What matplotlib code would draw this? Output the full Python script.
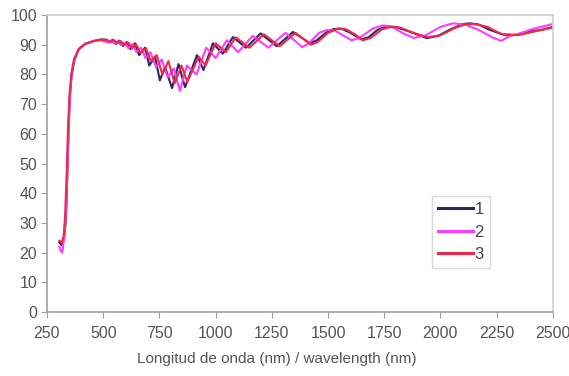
import matplotlib
matplotlib.use("Agg")
import matplotlib.pyplot as plt

plt.rcParams['font.family'] = ['Liberation Sans', 'DejaVu Sans']

# sample 1
x1 = [305, 315, 325, 333, 340, 346, 352, 360, 372, 392, 420, 460, 490, 515, 528, 542, 557, 572, 588, 605,
      622, 641, 660, 686, 705, 730, 752, 775, 806, 835, 864, 917, 946, 988, 1032, 1077, 1135, 1200, 1272, 1344,
      1380, 1419, 1450, 1490, 1525, 1560, 1600, 1648, 1680, 1720, 1760, 1800, 1860, 1940, 1990, 2040, 2100, 2131,
      2170, 2220, 2275, 2340, 2400, 2450, 2500]
y1 = [23.5, 22.5, 24.5, 30, 45, 62, 73, 80, 85, 88.5, 90.3, 91.3, 91.8, 91.7, 90.8, 91.7, 90.3, 91.4, 89.6, 90.9,
      88.5, 90.5, 86.5, 89, 83, 86, 78, 82.5, 75.4, 83.5, 75.7, 86.5, 81.5, 90.5, 87, 92.6, 89, 93.8, 89.5, 94.3,
      92.5, 90.5, 91.5, 94, 95.3, 95.4, 94, 91.8, 92.5, 95, 96.2, 96, 94.5, 92.2, 93, 95, 97, 97.2,
      96.8, 95, 93.5, 93.3, 94.5, 95, 96]

# sample 2
x2 = [305, 312, 318, 326, 334, 341, 347, 353, 361, 373, 393, 420, 460, 490, 520, 536, 550, 565, 580, 596,
      612, 630, 648, 668, 688, 710, 735, 760, 787, 814, 841, 872, 915, 958, 1000, 1050, 1100, 1165, 1235, 1310,
      1350, 1385, 1415, 1460, 1495, 1530, 1570, 1605, 1640, 1700, 1744, 1780, 1830, 1880, 1930, 2000, 2055, 2110,
      2170, 2230, 2270, 2310, 2350, 2420, 2500]
y2 = [22, 20.5, 20, 25, 33, 48, 64, 74, 81, 85.5, 88.8, 90.3, 91.3, 91.5, 90.8, 91.4, 90.4, 91.2, 89.8, 90.8,
      88.8, 90.2, 87.5, 89, 85.5, 87.5, 82.5, 85, 79, 82, 74.5, 83, 80, 89, 85.5, 91.5, 87.5, 93, 89, 94,
      91.5, 89.2, 90.5, 94, 95, 94.8, 93, 91.5, 92.3, 95.5, 96.5, 96.2, 94, 92.3, 93, 96, 97.2, 96.8,
      95, 92.5, 91.3, 93, 93.8, 95.5, 97]

# sample 3
x3 = [305, 315, 324, 331, 338, 344, 350, 358, 370, 390, 420, 460, 490, 520, 533, 547, 562, 577, 593, 610,
      628, 646, 666, 690, 712, 738, 763, 790, 818, 848, 874, 925, 955, 1000, 1045, 1090, 1150, 1215, 1285, 1355,
      1390, 1425, 1455, 1500, 1545, 1580, 1620, 1655, 1690, 1740, 1780, 1820, 1880, 1945, 2000, 2060, 2110, 2150,
      2210, 2260, 2290, 2350, 2420, 2500]
y3 = [24, 23.5, 25.5, 33, 48, 63, 73, 80, 85, 88.5, 90.3, 91.3, 91.7, 91.5, 90.9, 91.6, 90.5, 91.3, 89.9, 90.8,
      88.8, 90.2, 87.2, 88.8, 84.5, 86.5, 80, 84.5, 77, 83, 77.5, 86, 83, 90.5, 87.5, 92.5, 89, 93.5, 89.5, 94,
      92, 90, 91, 94, 95.5, 95.2, 93.5, 91.5, 92.3, 95.2, 96, 95.8, 94, 92.5, 93.2, 95.5, 96.9, 97,
      96, 94, 93.2, 93.3, 94.5, 95.8]

labels = ['1', '2', '3']
colors = ['#2a2868', '#ff3cff', '#f0284a']

fig = plt.figure(figsize=(5.69, 3.76), dpi=100)
ax = fig.add_axes([0.0826, 0.170, 0.889, 0.790])

for xs, ys, lab, c in zip([x1, x2, x3], [y1, y2, y3], labels, colors):
    ax.plot(xs, ys, color=c, lw=1.5, label=lab, solid_joinstyle='round')

ax.set_xlim(250, 2500)
ax.set_ylim(0, 100)
ax.set_xticks(range(250, 2501, 250))
ax.set_yticks(range(0, 101, 10))

for s in ['left', 'bottom']:
    ax.spines[s].set_color('#a0a0a0')
for s in ['top', 'right']:
    ax.spines[s].set_color('#d0d0d0')
for s in ax.spines.values():
    s.set_linewidth(1.2)

ax.tick_params(axis='both', colors='#a0a0a0', labelcolor='#555555', labelsize=11.5, length=4)
ax.tick_params(axis='x', pad=6)
ax.tick_params(axis='y', pad=3)

ax.set_xlabel('Longitud de onda (nm) / wavelength (nm)', fontsize=11, color='#555555')
ax.xaxis.set_label_coords(0.455, -0.135)

leg = ax.legend(loc='lower left', bbox_to_anchor=(0.761, 0.148), borderaxespad=0, fontsize=12,
                handlelength=2.1, handletextpad=0.1, borderpad=0.35, labelspacing=0.45,
                fancybox=False, framealpha=1)
leg.get_frame().set_edgecolor('#d8d8d8')
leg.get_frame().set_linewidth(1.0)
for t in leg.get_texts():
    t.set_color('#444444')
for l in leg.get_lines():
    l.set_linewidth(2.2)

fig.savefig('out.png', dpi=100)
